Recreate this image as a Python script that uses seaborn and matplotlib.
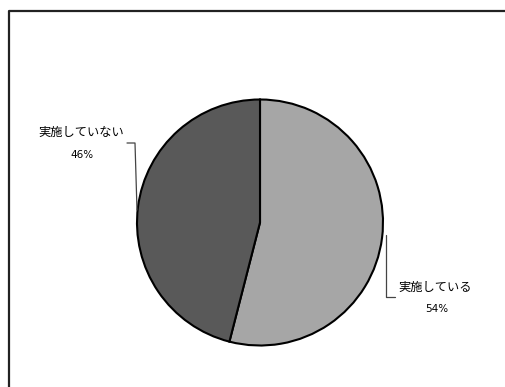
import matplotlib
matplotlib.use("Agg")
import matplotlib.pyplot as plt
import seaborn as sns

categories = ["実施している", "実施していない"]
values = [54, 46]
colors = ["#A6A6A6", "#595959"]

sns.set_theme(style="white")
plt.rcParams['font.family'] = ['Noto Sans CJK JP', 'DejaVu Sans']

W, H = 505, 387
fig = plt.figure(figsize=(W / 100, H / 100), dpi=100)
ax = fig.add_axes([0, 0, 1, 1])
ax.set_xlim(0, W)
ax.set_ylim(0, H)
ax.axis("off")

def Y(y):
    return H - y

cx, cy, r = 260, 222.5, 123
ax.pie(values, colors=colors, startangle=90, counterclock=False,
       center=(cx, Y(cy)), radius=r, frame=True,
       wedgeprops=dict(edgecolor="black", linewidth=1.5))
ax.set_xlim(0, W)
ax.set_ylim(0, H)
ax.set_aspect("equal")
ax.axis("off")

# outer frame
ax.plot([8.5, 8.5, W], [0, Y(10.5), Y(10.5)], color="#222222", lw=1.6, solid_capstyle="butt")

# label positions (pixel layout)
label_pos = [(435, 287, 437, 309), (81, 132, 82, 155)]
for (name, v, (tx, ty, px, py)) in zip(categories, values, label_pos):
    ax.text(tx, Y(ty), name, ha="center", va="center", fontsize=8.8, color="black")
    ax.text(px, Y(py), f"{v}%", ha="center", va="center", fontsize=7.5,
            color="black", family=["DejaVu Sans"])

# leader lines
ax.plot([386, 386, 395], [Y(235), Y(297), Y(297)], color="#444444", lw=0.9)
ax.plot([127, 135, 137], [Y(143), Y(143), Y(210)], color="#444444", lw=0.9)

fig.savefig("out.png", dpi=100)
